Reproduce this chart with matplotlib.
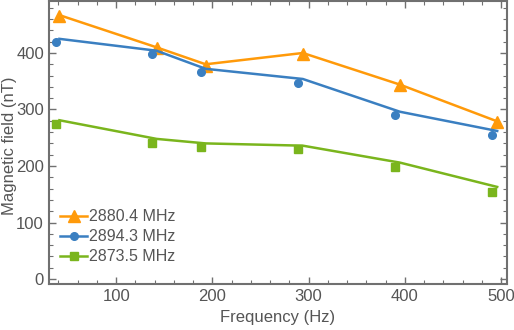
import numpy as np
import matplotlib.pyplot as plt
from matplotlib.ticker import MultipleLocator

plt.rcParams['font.family'] = ['Liberation Sans', 'DejaVu Sans']

## data
labels = ["2880.4 MHz", "2894.3 MHz", "2873.5 MHz"]
freq_pts = [37, 137, 188, 289, 390, 491]   ## measured points
freq_line = [41, 142, 193, 294, 395, 496]  ## fitted curves

orange_pts = [465, 409, 377, 398, 343, 278]
blue_pts = [420, 398, 366, 347, 290, 255]
green_pts = [274, 241, 233, 230, 198, 154]

orange_line = [467, 410, 380, 400, 344, 279]
blue_line = [425, 404, 372, 354, 296, 262]
green_line = [281, 248, 240, 236, 206, 163]

c_orange = "#FF9A0A"
c_blue = "#3A7FC1"
c_green = "#7AB51D"
gray = "#555555"
frame = "#707070"

fig = plt.figure(figsize=(5.14, 3.30), dpi=100)
ax = fig.add_axes([0.095, 0.139, 0.891, 0.858])

ax.plot(freq_line, orange_line, color=c_orange, lw=1.8)
ax.plot(freq_line, orange_pts, ls='none', marker='^', ms=8.5, color=c_orange)
ax.plot(freq_line, blue_line, color=c_blue, lw=1.8)
ax.plot(freq_pts, blue_pts, ls='none', marker='o', ms=5.5, color=c_blue)
ax.plot(freq_line, green_line, color=c_green, lw=1.8)
ax.plot(freq_pts, green_pts, ls='none', marker='s', ms=5.5, color=c_green)

## legend handles (line + marker)
h1, = ax.plot([], [], color=c_orange, lw=1.8, marker='^', ms=8.5)
h2, = ax.plot([], [], color=c_blue, lw=1.8, marker='o', ms=5.5)
h3, = ax.plot([], [], color=c_green, lw=1.8, marker='s', ms=5.5)
leg = ax.legend([h1, h2, h3], labels, loc='lower left', bbox_to_anchor=(0.0, 0.03),
                frameon=False, fontsize=11.5, handlelength=1.7, handletextpad=0.1,
                labelspacing=0.32, borderaxespad=0.3)
for t in leg.get_texts():
    t.set_color(gray)

ax.set_xlim(30, 506)
ax.set_ylim(-9, 492)
ax.xaxis.set_major_locator(MultipleLocator(100))
ax.xaxis.set_minor_locator(MultipleLocator(20))
ax.yaxis.set_major_locator(MultipleLocator(100))
ax.yaxis.set_minor_locator(MultipleLocator(20))
ax.tick_params(which='both', direction='in', top=True, right=True, color=frame,
               labelcolor=gray, labelsize=12)
ax.tick_params(which='major', length=5, width=1)
ax.tick_params(which='minor', length=3, width=0.8)
for s in ax.spines.values():
    s.set_color(frame)
    s.set_linewidth(1.5)

ax.set_xlabel("Frequency (Hz)", color=gray, fontsize=12, labelpad=4)
ax.set_ylabel("Magnetic field (nT)", color=gray, fontsize=12)
ax.yaxis.set_label_coords(-0.069, 0.49)

fig.savefig("out.png", dpi=100)
